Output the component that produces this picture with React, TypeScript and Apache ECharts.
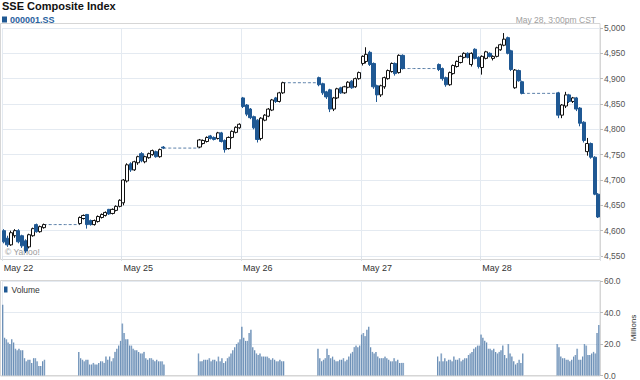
import React, { useEffect, useRef } from 'react';
import * as echarts from 'echarts';

const FONT = '"Liberation Sans", Arial, Helvetica, sans-serif';

const days = ['May 22', 'May 25', 'May 26', 'May 27', 'May 28'];
const priceTicks = [4550, 4600, 4650, 4700, 4750, 4800, 4850, 4900, 4950, 5000];
const volumeTicks = [0, 20, 40, 60];

// 10-minute candles: [open, close, low, high]
const may22Am = [
  [4600, 4578, 4575, 4603], [4585, 4572, 4568, 4590], [4572, 4596, 4570, 4600], [4590, 4600, 4586, 4603],
  [4600, 4578, 4575, 4603], [4590, 4570, 4566, 4592], [4580, 4560, 4556, 4583], [4568, 4592, 4565, 4594],
  [4590, 4604, 4588, 4606], [4612, 4598, 4596, 4614], [4598, 4608, 4596, 4610], [4606, 4612, 4604, 4614],
];
const may22Pm = [
  [4614, 4626, 4612, 4628], [4624, 4630, 4622, 4632], [4632, 4612, 4604, 4633], [4620, 4612, 4610, 4622],
  [4612, 4620, 4610, 4622], [4618, 4628, 4616, 4630], [4626, 4632, 4624, 4634], [4630, 4636, 4628, 4638],
  [4642, 4633, 4631, 4643], [4634, 4642, 4632, 4644], [4640, 4648, 4638, 4650], [4648, 4660, 4646, 4662],
];
const may25Am = [
  [4655, 4700, 4650, 4702], [4698, 4730, 4695, 4733], [4732, 4720, 4716, 4735], [4720, 4736, 4718, 4738],
  [4734, 4746, 4730, 4748], [4752, 4738, 4735, 4755], [4736, 4746, 4733, 4748], [4744, 4752, 4742, 4754],
  [4750, 4758, 4748, 4760], [4756, 4746, 4744, 4758], [4746, 4760, 4744, 4762], [4765, 4763, 4761, 4767],
];
const may25Pm = [
  [4765, 4779, 4763, 4781], [4772, 4778, 4770, 4780], [4776, 4784, 4774, 4786], [4787, 4782, 4780, 4789],
  [4784, 4780, 4778, 4786], [4782, 4793, 4780, 4795], [4793, 4776, 4774, 4795], [4778, 4760, 4754, 4780],
  [4762, 4784, 4760, 4786], [4784, 4796, 4782, 4798], [4794, 4804, 4792, 4806], [4803, 4810, 4801, 4812],
];
const may26Am = [
  [4862, 4845, 4842, 4864], [4848, 4830, 4826, 4850], [4840, 4823, 4820, 4842], [4825, 4803, 4800, 4827],
  [4818, 4780, 4774, 4820], [4782, 4822, 4778, 4824], [4818, 4828, 4816, 4830], [4826, 4840, 4824, 4842],
  [4838, 4858, 4836, 4860], [4862, 4855, 4852, 4864], [4855, 4872, 4853, 4874], [4872, 4892, 4870, 4894],
];
const may26Pm = [
  [4902, 4888, 4885, 4904], [4890, 4872, 4868, 4892], [4874, 4864, 4860, 4876], [4878, 4840, 4834, 4880],
  [4840, 4862, 4836, 4864], [4862, 4880, 4860, 4882], [4882, 4872, 4870, 4884], [4872, 4884, 4870, 4886],
  [4883, 4893, 4881, 4895], [4895, 4882, 4880, 4897], [4884, 4900, 4882, 4902], [4900, 4912, 4898, 4914],
];
const may27Am = [
  [4930, 4944, 4926, 4946], [4934, 4948, 4930, 4962], [4952, 4928, 4925, 4955], [4930, 4884, 4880, 4932],
  [4886, 4868, 4854, 4888], [4868, 4886, 4864, 4888], [4884, 4902, 4880, 4904], [4900, 4916, 4898, 4918],
  [4914, 4930, 4912, 4932], [4930, 4910, 4906, 4932], [4912, 4946, 4910, 4948], [4946, 4920, 4918, 4948],
];
const may27Pm = [
  [4928, 4918, 4915, 4930], [4920, 4900, 4896, 4922], [4902, 4888, 4884, 4904], [4888, 4912, 4886, 4914],
  [4910, 4926, 4908, 4928], [4924, 4934, 4922, 4936], [4932, 4944, 4930, 4946], [4942, 4950, 4940, 4952],
  [4950, 4942, 4940, 4952], [4928, 4950, 4924, 4952], [4958, 4940, 4938, 4960], [4942, 4924, 4920, 4944],
];
const may28Am = [
  [4922, 4944, 4908, 4946], [4940, 4953, 4938, 4955], [4950, 4944, 4942, 4952], [4940, 4944, 4936, 4946],
  [4944, 4961, 4942, 4963], [4957, 4967, 4955, 4969], [4966, 4978, 4964, 4990], [4981, 4950, 4948, 4983],
  [4955, 4918, 4915, 4957], [4882, 4917, 4880, 4919], [4916, 4896, 4894, 4918], [4894, 4871, 4869, 4896],
];
const may28Pm = [
  [4872, 4828, 4822, 4874], [4828, 4848, 4822, 4850], [4846, 4868, 4842, 4874], [4868, 4855, 4852, 4870],
  [4855, 4862, 4852, 4864], [4862, 4840, 4836, 4864], [4842, 4812, 4806, 4844], [4814, 4778, 4774, 4816],
  [4756, 4772, 4748, 4783], [4772, 4745, 4742, 4774], [4745, 4672, 4670, 4747], [4672, 4627, 4625, 4674],
];

// 5-minute volume, millions
const vol22Am = [45, 24, 23, 21, 20, 23, 21, 17, 16, 17, 16, 16, 11, 9, 10, 10, 8, 11, 11, 9, 6, 6, 9, 10];
const vol22Pm = [15, 11, 10, 9, 10, 10, 7, 7, 8, 7, 7, 8, 9, 9, 8, 12, 10, 12, 9, 11, 15, 17, 19, 22];
const vol25Am = [33, 27, 23, 23, 19, 19, 17, 16, 16, 15, 14, 14, 15, 11, 10, 11, 11, 10, 9, 10, 9, 9, 9, 7];
const vol25Pm = [14, 9, 9, 10, 10, 10, 11, 9, 10, 10, 9, 12, 9, 11, 8, 9, 11, 12, 14, 16, 18, 20, 21, 23];
const vol26Am = [31, 24, 22, 22, 27, 29, 18, 16, 14, 13, 14, 12, 12, 12, 12, 11, 10, 11, 10, 9, 9, 10, 9, 9];
const vol26Pm = [17, 11, 9, 10, 11, 17, 13, 11, 12, 10, 9, 9, 10, 10, 11, 9, 10, 12, 14, 15, 18, 19, 18, 19];
const vol27Am = [26, 27, 25, 29, 31, 18, 15, 14, 15, 12, 11, 11, 11, 12, 11, 10, 9, 9, 11, 9, 10, 8, 8, 8];
const vol27Pm = [12, 9, 14, 9, 11, 9, 10, 10, 9, 12, 10, 10, 11, 9, 10, 11, 11, 13, 14, 15, 17, 18, 19, 19];
const vol28Am = [26, 24, 22, 21, 17, 17, 16, 17, 15, 14, 15, 16, 19, 13, 11, 20, 14, 12, 9, 7, 8, 10, 8, 14];
const vol28Pm = [20, 18, 12, 11, 11, 10, 10, 9, 10, 12, 13, 17, 10, 10, 12, 20, 19, 13, 13, 14, 15, 14, 27, 32];

const candleSessions = [
  [may22Am, may22Pm], [may25Am, may25Pm], [may26Am, may26Pm], [may27Am, may27Pm], [may28Am, may28Pm],
];
const volumeSessions = [
  [vol22Am, vol22Pm], [vol25Am, vol25Pm], [vol26Am, vol26Pm], [vol27Am, vol27Pm], [vol28Am, vol28Pm],
];

const LUNCH_CANDLE_SLOTS = 9; // 11:30-13:00 in 10-min slots
const LUNCH_VOLUME_SLOTS = 18; // in 5-min slots
const DAY_CANDLE_SLOTS = 12 + LUNCH_CANDLE_SLOTS + 12;
const DAY_VOLUME_SLOTS = 24 + LUNCH_VOLUME_SLOTS + 24;

const priceCats: string[] = [];
const candleData: any[] = [];
const lunchData: any[] = [];
days.forEach((day, d) => {
  const [am, pm] = candleSessions[d];
  const noonClose = am[am.length - 1][1];
  for (let s = 0; s < DAY_CANDLE_SLOTS; s++) {
    priceCats.push(day + '|' + s);
    if (s < 12) candleData.push(am[s]);
    else if (s < 12 + LUNCH_CANDLE_SLOTS) candleData.push('-');
    else candleData.push(pm[s - 12 - LUNCH_CANDLE_SLOTS]);
    lunchData.push(s >= 11 && s <= 12 + LUNCH_CANDLE_SLOTS ? noonClose : '-');
  }
});

const volCats: string[] = [];
const volData: any[] = [];
days.forEach((day, d) => {
  const [am, pm] = volumeSessions[d];
  for (let s = 0; s < DAY_VOLUME_SLOTS; s++) {
    volCats.push(day + '|' + s);
    if (s < 24) volData.push(am[s]);
    else if (s < 24 + LUNCH_VOLUME_SLOTS) volData.push('-');
    else volData.push(pm[s - 24 - LUNCH_VOLUME_SLOTS]);
  }
});

const GRID_LINE = '#e4eaf1';
const FRAME = '#d6d6d6';
const BLUE = '#1f5893';

export default function App() {
  const ref = useRef<HTMLDivElement>(null);
  useEffect(() => {
    const chart = echarts.init(ref.current as HTMLDivElement, null, { renderer: 'svg' });
    const option: any = {
      animation: false,
      backgroundColor: '#ffffff',
      textStyle: { fontFamily: FONT },
      grid: [
        { left: 2, right: 40, top: 28, height: 228 },
        { left: 2, right: 40, top: 281, height: 95 },
      ],
      xAxis: [
        {
          type: 'category',
          gridIndex: 0,
          data: priceCats,
          boundaryGap: true,
          axisLine: { show: false },
          axisTick: {
            show: true,
            length: 5,
            interval: (i: number) => i % DAY_CANDLE_SLOTS === 0,
            lineStyle: { color: '#dbe1e8' },
          },
          axisLabel: {
            interval: (i: number) => i % DAY_CANDLE_SLOTS === 0,
            formatter: (v: string) => v.split('|')[0],
            align: 'left',
            fontSize: 9,
            color: '#333',
            margin: 7,
            fontFamily: FONT,
          },
          splitLine: {
            show: true,
            interval: (i: number) => i % DAY_CANDLE_SLOTS === 0,
            lineStyle: { color: GRID_LINE, width: 1 },
          },
        },
        {
          type: 'category',
          gridIndex: 1,
          data: volCats,
          boundaryGap: true,
          axisLine: { show: true, lineStyle: { color: FRAME } },
          axisTick: { show: false },
          axisLabel: { show: false },
          splitLine: {
            show: true,
            interval: (i: number) => i % DAY_VOLUME_SLOTS === 0,
            lineStyle: { color: GRID_LINE, width: 1 },
          },
        },
      ],
      yAxis: [
        {
          type: 'value',
          gridIndex: 0,
          position: 'right',
          min: priceTicks[0],
          max: priceTicks[priceTicks.length - 1],
          interval: 50,
          axisLine: { show: true, lineStyle: { color: FRAME } },
          axisTick: { show: true, length: 3, lineStyle: { color: '#bbb' } },
          axisLabel: {
            fontSize: 8.5,
            color: '#555',
            margin: 4,
            fontFamily: FONT,
            formatter: (v: number) => v.toLocaleString('en-US'),
          },
          splitLine: { show: true, lineStyle: { color: GRID_LINE, width: 1 } },
        },
        {
          type: 'value',
          gridIndex: 1,
          position: 'right',
          min: volumeTicks[0],
          max: volumeTicks[volumeTicks.length - 1],
          interval: 20,
          axisLine: { show: true, lineStyle: { color: FRAME } },
          axisTick: { show: true, length: 3, lineStyle: { color: '#bbb' } },
          axisLabel: {
            fontSize: 8.5,
            color: '#555',
            margin: 4,
            fontFamily: FONT,
            formatter: (v: number) => v.toFixed(1),
          },
          splitLine: { show: true, lineStyle: { color: GRID_LINE, width: 1 } },
        },
      ],
      series: [
        {
          type: 'line',
          xAxisIndex: 0,
          yAxisIndex: 0,
          data: lunchData,
          symbol: 'none',
          connectNulls: false,
          silent: true,
          lineStyle: { color: '#5a7fa8', width: 1, type: [3, 2] },
          z: 2,
        },
        {
          type: 'candlestick',
          xAxisIndex: 0,
          yAxisIndex: 0,
          data: candleData,
          barWidth: 3.6,
          itemStyle: {
            color: '#ffffff',
            color0: BLUE,
            borderColor: '#111111',
            borderColor0: BLUE,
            borderWidth: 1,
          },
          z: 3,
        },
        {
          type: 'bar',
          xAxisIndex: 1,
          yAxisIndex: 1,
          data: volData,
          barWidth: 1.5,
          itemStyle: {
            color: new echarts.graphic.LinearGradient(0, 0, 1, 0, [
              { offset: 0, color: '#2f6096' },
              { offset: 0.45, color: '#7f9fc2' },
              { offset: 1, color: '#b8cadd' },
            ]),
          },
        },
      ],
      graphic: [
        {
          type: 'rect',
          shape: { x: 0.5, y: 23.5, width: 599.5, height: 236 },
          style: { fill: 'none', stroke: FRAME, lineWidth: 1 },
          silent: true,
          z: 0,
        },
        {
          type: 'rect',
          shape: { x: 0.5, y: 280.5, width: 599.5, height: 95.5 },
          style: { fill: 'none', stroke: FRAME, lineWidth: 1 },
          silent: true,
          z: 0,
        },
        {
          type: 'text',
          x: 2,
          y: 6,
          style: {
            text: 'SSE Composite Index',
            font: 'bold 11px ' + FONT,
            fill: '#111',
            textAlign: 'left',
            textVerticalAlign: 'middle',
          },
        },
        {
          type: 'rect',
          shape: { x: 2, y: 16.5, width: 5, height: 6 },
          style: { fill: BLUE },
        },
        {
          type: 'text',
          x: 10,
          y: 19.5,
          style: {
            text: '000001.SS',
            font: 'bold 9px ' + FONT,
            fill: '#2a62a0',
            textAlign: 'left',
            textVerticalAlign: 'middle',
          },
        },
        {
          type: 'text',
          x: 596,
          y: 19.5,
          style: {
            text: 'May 28, 3:00pm CST',
            font: '8.5px ' + FONT,
            fill: '#a0a0a0',
            textAlign: 'right',
            textVerticalAlign: 'middle',
          },
        },
        {
          type: 'text',
          x: 5,
          y: 252,
          style: {
            text: '© Yahoo!',
            font: '8.5px ' + FONT,
            fill: '#9a9a9a',
            textAlign: 'left',
            textVerticalAlign: 'middle',
          },
        },
        {
          type: 'rect',
          shape: { x: 4, y: 286.5, width: 3.5, height: 6 },
          style: { fill: BLUE },
        },
        {
          type: 'text',
          x: 11.5,
          y: 290,
          style: {
            text: 'Volume',
            font: '8.5px ' + FONT,
            fill: '#333',
            textAlign: 'left',
            textVerticalAlign: 'middle',
          },
        },
        {
          type: 'text',
          x: 633,
          y: 328,
          rotation: Math.PI / 2,
          style: {
            text: 'Millions',
            font: '8px ' + FONT,
            fill: '#333',
            textAlign: 'center',
            textVerticalAlign: 'middle',
          },
        },
      ],
    };
    chart.setOption(option);
    return () => chart.dispose();
  }, []);
  return (
    <div
      ref={ref}
      style={{ position: 'fixed', left: 0, top: 0, width: 640, height: 380, background: '#fff' }}
    />
  );
}
